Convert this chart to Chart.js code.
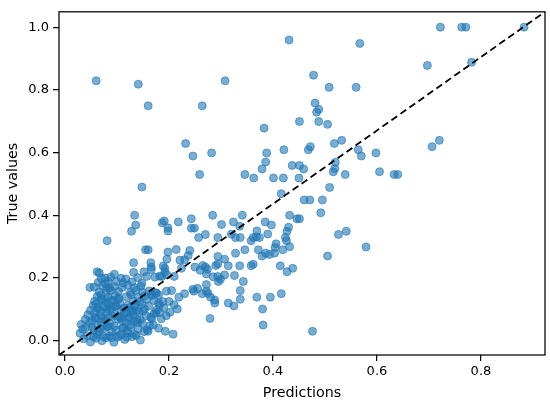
<!DOCTYPE html>
<html>
<head>
<meta charset="utf-8">
<script src="https://cdn.jsdelivr.net/npm/chart.js@4.4.0/dist/chart.umd.min.js"></script>
<style>
  html, body { margin: 0; padding: 0; background: #fff; }
  #wrap { width: 550px; height: 404px; }
</style>
</head>
<body>
<div id="wrap"><canvas id="scatterChart" width="550" height="404"></canvas></div>
<script>
// model predictions (x) and matching true values (y), same order
const predictions = [
  // sparse upper points
  0.060, 0.141, 0.160, 0.264, 0.308, 0.431, 0.451, 0.383,
  0.232, 0.246, 0.282, 0.388, 0.421, 0.386, 0.379, 0.437,
  0.451, 0.459, 0.259, 0.346, 0.363, 0.401, 0.420, 0.450,
  0.148, 0.722, 0.763, 0.771, 0.883, 0.567, 0.697, 0.782,
  0.478, 0.508, 0.560, 0.481, 0.488, 0.484, 0.488, 0.505,
  0.518, 0.532, 0.468, 0.472, 0.564, 0.570, 0.598, 0.706,
  0.720, 0.520, 0.519, 0.516, 0.539, 0.605, 0.633, 0.640,
  0.509, 0.460, 0.471, 0.495, 0.492, 0.451, 0.526, 0.541,
  0.579, 0.505, 0.476, 0.416,
  // middle band
  0.134, 0.136, 0.128, 0.081, 0.187, 0.191, 0.198, 0.198,
  0.218, 0.243, 0.243, 0.249, 0.284, 0.257, 0.270, 0.301,
  0.294, 0.324, 0.341, 0.336, 0.320, 0.328, 0.369, 0.385,
  0.397, 0.390, 0.374, 0.432, 0.446, 0.427, 0.424, 0.406,
  0.426, 0.432, 0.419, 0.403, 0.386, 0.372, 0.358, 0.346,
  0.328, 0.307, 0.294, 0.314, 0.336, 0.358, 0.427, 0.438,
  0.343, 0.337, 0.337, 0.325, 0.314, 0.369, 0.395, 0.416,
  0.380, 0.381, 0.279, 0.288, 0.280, 0.272, 0.264, 0.248,
  0.230, 0.219, 0.216, 0.202, 0.193, 0.208, 0.272, 0.285,
  0.299, 0.295, 0.326, 0.307, 0.224, 0.237, 0.240, 0.221,
  0.214, 0.198, 0.196, 0.192, 0.186, 0.165, 0.155, 0.160,
  0.132, 0.166, 0.152, 0.108, 0.062, 0.077, 0.083, 0.048,
  0.086, 0.205, 0.362, 0.430, 0.337, 0.368, 0.404, 0.379,
  0.393, 0.362, 0.414, 0.230, 0.265, 0.290, 0.294, 0.166,
  0.189, 0.192, 0.250, 0.260, 0.270, 0.274, 0.272, 0.294,
  0.157, 0.173, 0.182, 0.196, 0.210, 0.246, 0.255, 0.275,
  0.288, 0.195, 0.174, 0.180, 0.166, 0.182, 0.195,
  0.180, 0.190, 0.175, 0.165, 0.185, 0.200, 0.210, 0.160,
  0.170, 0.180,
  // dense cluster near the origin
  0.036, 0.049, 0.055, 0.071, 0.079, 0.094, 0.101, 0.115, 0.129, 0.145,
  0.029, 0.043, 0.061, 0.066, 0.085, 0.090, 0.108, 0.121, 0.137, 0.152,
  0.034, 0.040, 0.056, 0.075, 0.081, 0.098, 0.112, 0.119, 0.141, 0.158,
  0.031, 0.047, 0.063, 0.069, 0.087, 0.095, 0.117, 0.126, 0.133, 0.149, 0.163,
  0.039, 0.052, 0.059, 0.077, 0.084, 0.102, 0.110, 0.124, 0.139, 0.167,
  0.044, 0.057, 0.070, 0.080, 0.096, 0.105, 0.119, 0.131, 0.142, 0.156, 0.171,
  0.049, 0.063, 0.068, 0.086, 0.091, 0.108, 0.114, 0.128, 0.137, 0.153, 0.176,
  0.054, 0.060, 0.074, 0.083, 0.099, 0.106, 0.121, 0.134, 0.148, 0.161, 0.182,
  0.057, 0.071, 0.078, 0.093, 0.102, 0.131, 0.144, 0.158, 0.171, 0.188,
  0.062, 0.069, 0.083, 0.097, 0.118, 0.127, 0.141, 0.153, 0.168,
  0.066, 0.079, 0.088, 0.103, 0.126, 0.137, 0.149, 0.162, 0.176,
  0.056, 0.072, 0.081, 0.095, 0.110, 0.121, 0.133, 0.146,
  0.064, 0.078, 0.099, 0.112, 0.129, 0.148,
  0.070, 0.088, 0.117, 0.140,
  0.066, 0.095, 0.132,
  0.060, 0.074, 0.089, 0.104, 0.119, 0.134,
  0.052, 0.067, 0.082, 0.111, 0.127, 0.145,
  0.058, 0.073, 0.092, 0.107, 0.123, 0.140,
  0.065, 0.081, 0.097, 0.114, 0.130, 0.150,
  0.070, 0.087, 0.104, 0.124, 0.136
];

const trueValues = [
  // sparse upper points
  0.829, 0.818, 0.749, 0.749, 0.829, 0.959, 0.699, 0.678,
  0.629, 0.589, 0.599, 0.599, 0.609, 0.570, 0.548, 0.559,
  0.559, 0.548, 0.530, 0.530, 0.519, 0.519, 0.519, 0.519,
  0.490, 1.000, 1.000, 1.000, 1.000, 0.948, 0.878, 0.888,
  0.847, 0.808, 0.808, 0.758, 0.738, 0.729, 0.699, 0.690,
  0.629, 0.639, 0.609, 0.619, 0.609, 0.589, 0.599, 0.619,
  0.639, 0.569, 0.549, 0.539, 0.530, 0.539, 0.530, 0.530,
  0.489, 0.449, 0.449, 0.449, 0.408, 0.389, 0.339, 0.349,
  0.299, 0.270, 0.030, 0.469,
  // middle band
  0.400, 0.369, 0.349, 0.319, 0.376, 0.382, 0.360, 0.350,
  0.379, 0.389, 0.359, 0.359, 0.400, 0.329, 0.339, 0.371,
  0.329, 0.379, 0.400, 0.365, 0.340, 0.329, 0.350, 0.379,
  0.369, 0.340, 0.329, 0.400, 0.389, 0.349, 0.329, 0.309,
  0.319, 0.300, 0.290, 0.279, 0.279, 0.290, 0.319, 0.290,
  0.279, 0.260, 0.269, 0.239, 0.239, 0.239, 0.220, 0.231,
  0.189, 0.160, 0.132, 0.111, 0.120, 0.139, 0.139, 0.150,
  0.101, 0.050, 0.071, 0.120, 0.139, 0.158, 0.150, 0.158,
  0.150, 0.139, 0.101, 0.091, 0.030, 0.021, 0.179, 0.204,
  0.196, 0.189, 0.208, 0.210, 0.231, 0.272, 0.288, 0.257,
  0.291, 0.283, 0.260, 0.231, 0.205, 0.249, 0.290, 0.290,
  0.249, 0.227, 0.220, 0.199, 0.220, 0.200, 0.190, 0.170,
  0.168, 0.160, 0.329, 0.362, 0.329, 0.331, 0.297, 0.270,
  0.275, 0.244, 0.239, 0.258, 0.240, 0.240, 0.245, 0.235,
  0.238, 0.220, 0.235, 0.225, 0.235, 0.228, 0.213, 0.205,
  0.205, 0.203, 0.206, 0.210, 0.205, 0.164, 0.167, 0.151,
  0.130, 0.158, 0.153, 0.146, 0.149, 0.090, 0.080,
  0.120, 0.105, 0.090, 0.075, 0.070, 0.125, 0.115, 0.030,
  0.050, 0.040,
  // dense cluster near the origin
  0.006, -0.004, 0.012, 0.000, 0.009, -0.005, 0.011, 0.004, 0.013, 0.002,
  0.024, 0.016, 0.021, 0.027, 0.015, 0.028, 0.020, 0.025, 0.017, 0.029,
  0.037, 0.043, 0.033, 0.039, 0.045, 0.034, 0.042, 0.031, 0.038, 0.035,
  0.052, 0.057, 0.049, 0.060, 0.054, 0.047, 0.058, 0.051, 0.062, 0.055, 0.048,
  0.068, 0.064, 0.073, 0.066, 0.075, 0.069, 0.063, 0.072, 0.067, 0.070,
  0.083, 0.088, 0.079, 0.091, 0.084, 0.078, 0.089, 0.082, 0.092, 0.080, 0.086,
  0.097, 0.103, 0.094, 0.100, 0.106, 0.096, 0.104, 0.099, 0.095, 0.102, 0.098,
  0.112, 0.118, 0.109, 0.116, 0.111, 0.119, 0.113, 0.108, 0.117, 0.110, 0.114,
  0.126, 0.131, 0.124, 0.129, 0.133, 0.127, 0.124, 0.132, 0.128, 0.125,
  0.141, 0.146, 0.139, 0.144, 0.140, 0.147, 0.138, 0.143, 0.145,
  0.156, 0.153, 0.160, 0.157, 0.154, 0.161, 0.155, 0.159, 0.152,
  0.171, 0.175, 0.168, 0.173, 0.170, 0.177, 0.169, 0.174,
  0.186, 0.182, 0.189, 0.184, 0.188, 0.183,
  0.199, 0.203, 0.197, 0.201,
  0.216, 0.212, 0.218,
  0.008, 0.014, 0.010, 0.016, 0.012, 0.020,
  0.042, 0.038, 0.046, 0.040, 0.044, 0.066,
  0.074, 0.070, 0.078, 0.072, 0.076, 0.058,
  0.106, 0.102, 0.110, 0.088, 0.092, 0.094,
  0.132, 0.128, 0.136, 0.105, 0.116
];

const xTicks = [0.0, 0.2, 0.4, 0.6, 0.8];
const yTicks = [0.0, 0.2, 0.4, 0.6, 0.8, 1.0];

// axis limits
const xMin = -0.0115, xMax = 0.9232;
const yMin = -0.0455, yMax = 1.049;

const points = predictions.map((p, i) => ({ x: p, y: trueValues[i] }));

// box around the plot area (all four spines)
const frame = {
  id: 'frame',
  afterDatasetsDraw(chart) {
    const { ctx, chartArea: a } = chart;
    ctx.save();
    ctx.strokeStyle = '#000';
    ctx.lineWidth = 1.25;
    ctx.strokeRect(a.left, a.top, a.right - a.left, a.bottom - a.top);
    ctx.restore();
  }
};

Chart.defaults.font.family = "'DejaVu Sans', sans-serif";
Chart.defaults.color = '#000';

let ctx = document.getElementById('scatterChart').getContext('2d');
let chart = new Chart(ctx, {
  type: 'scatter',
  data: {
    datasets: [
      {
        type: 'line',
        data: [{ x: xMin, y: yMin }, { x: xMax, y: yMax }],
        borderColor: '#000',
        borderWidth: 1.8,
        borderDash: [7, 4],
        pointRadius: 0,
        fill: false,
        order: 0
      },
      {
        data: points,
        backgroundColor: 'rgba(31, 119, 180, 0.6)',
        borderColor: 'rgba(31, 119, 180, 0.6)',
        borderWidth: 1,
        pointRadius: 4,
        order: 1
      }
    ]
  },
  options: {
    responsive: false,
    animation: false,
    devicePixelRatio: 1,
    layout: { padding: { left: 0, right: 4, top: 4, bottom: 0 } },
    plugins: {
      legend: { display: false },
      tooltip: { enabled: false }
    },
    scales: {
      x: {
        type: 'linear',
        min: xMin,
        max: xMax,
        afterBuildTicks: function(scale) {
          scale.ticks = xTicks.map(v => ({ value: v }));
        },
        afterFit: function(scale) { scale.height = 49; },
        ticks: {
          callback: v => v.toFixed(1),
          font: { size: 13 },
          padding: 3,
          maxRotation: 0,
          autoSkip: false
        },
        grid: {
          drawOnChartArea: false,
          drawTicks: true,
          tickLength: 6,
          tickColor: '#000',
          lineWidth: 1.25
        },
        border: { display: false },
        title: {
          display: true,
          text: 'Predictions',
          font: { size: 14.3 },
          padding: { top: 0, bottom: 2.5 }
        }
      },
      y: {
        type: 'linear',
        min: yMin,
        max: yMax,
        afterBuildTicks: function(scale) {
          scale.ticks = yTicks.map(v => ({ value: v }));
        },
        afterFit: function(scale) { scale.width = 59; },
        ticks: {
          callback: v => v.toFixed(1),
          font: { size: 13 },
          padding: 4,
          autoSkip: false
        },
        grid: {
          drawOnChartArea: false,
          drawTicks: true,
          tickLength: 6,
          tickColor: '#000',
          lineWidth: 1.25
        },
        border: { display: false },
        title: {
          display: true,
          text: 'True values',
          font: { size: 14.3 },
          padding: { top: 4.5, bottom: 0 }
        }
      }
    }
  },
  plugins: [frame]
});
</script>
</body>
</html>
